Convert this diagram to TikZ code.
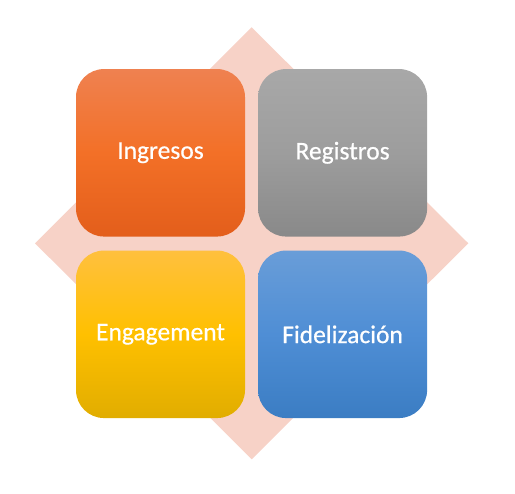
\documentclass[tikz,border=0pt]{standalone}
\usepackage{fontspec}
\setmainfont{Carlito}
\newfontfamily\tilefont[FakeBold=0.6]{Carlito}
\begin{document}
\begin{tikzpicture}[x=1pt,y=-1pt,
  tile/.style={rounded corners=28pt, inner sep=0pt, minimum width=169pt, minimum height=167.5pt,
    text=white, font=\tilefont\fontsize{25.5}{30}\selectfont},
]
\definecolor{dia}{HTML}{F7D2C7}
\definecolor{orT}{HTML}{EF8150}\definecolor{orM}{HTML}{F37027}\definecolor{orB}{HTML}{E35E1B}
\definecolor{grT}{HTML}{A8A8A8}\definecolor{grM}{HTML}{9D9D9D}\definecolor{grB}{HTML}{898989}
\definecolor{yeT}{HTML}{FFC03E}\definecolor{yeM}{HTML}{FFC000}\definecolor{yeB}{HTML}{E1AD00}
\definecolor{blT}{HTML}{699DD8}\definecolor{blM}{HTML}{4F8ED5}\definecolor{blB}{HTML}{3B7DC3}
\useasboundingbox (0,0) rectangle (515,494);
\fill[dia] (251.7,27.3) -- (468.3,243.3) -- (251.7,459.3) -- (35,243.3) -- cycle;
\node[tile, top color=orT, bottom color=orB, middle color=orM] (ing) at (160.5,152.8) {Ingresos};
\node[tile, top color=grT, bottom color=grB, middle color=grM] (reg) at (342.6,152.8) {Registros};
\node[tile, top color=yeT, bottom color=yeB, middle color=yeM] (eng) at (160.5,334.3) {Engagement};
\node[tile, top color=blT, bottom color=blB, middle color=blM] (fid) at (342.6,334.3) {Fidelización};
\end{tikzpicture}
\end{document}
